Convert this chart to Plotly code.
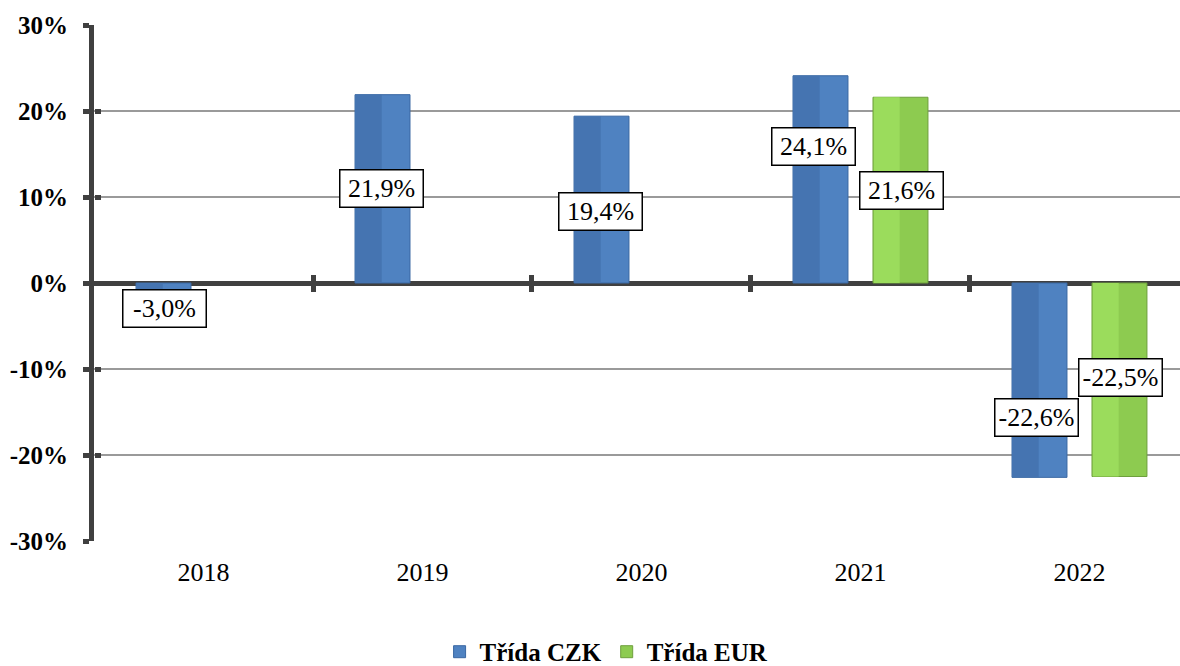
import plotly.graph_objects as go

# ---- data ----
years = ["2018", "2019", "2020", "2021", "2022"]
czk = [-3.0, 21.9, 19.4, 24.1, -22.6]
eur = [None, None, None, 21.6, -22.5]
series_names = ["Třída CZK", "Třída EUR"]
y_tickvals = [-30, -20, -10, 0, 10, 20, 30]
y_ticktext = ["-30%", "-20%", "-10%", "0%", "10%", "20%", "30%"]

# label placement (fraction of bar length where the boxed label sits) and small pixel nudges
czk_label_frac = [1.0, 0.50, 0.43, 0.66, 0.69]
eur_label_frac = [None, None, None, 0.50, 0.49]
czk_nudge = [1, -1, -1, -7, -3]
eur_nudge = [0, 0, 0, 1, 1]

FONT = "Liberation Serif"
AXIS_DARK = "#404040"
GRID = "#9a9a9a"
BLUE = "#4F82C1"
BLUE_SHADE = "#4574B1"
BLUE_LINE = "#3A68A3"
GREEN = "#8DCB50"
GREEN_SHADE = "#9BDC5C"
GREEN_LINE = "#6E9F3D"

BAR_W = 0.251      # bar width in category units
SLOT = 0.1826      # distance of each series' bar centre from category centre

fig = go.Figure()
for vals, name, face, shade, line, sign in (
    (czk, series_names[0], BLUE, BLUE_SHADE, BLUE_LINE, -1),
    (eur, series_names[1], GREEN, GREEN_SHADE, GREEN_LINE, 1),
):
    off = sign * SLOT - BAR_W / 2
    fig.add_trace(go.Bar(
        x=years, y=vals, name=name, offset=off, width=BAR_W,
        marker=dict(color=face, line=dict(color=line, width=1)),
        hoverinfo="skip",
    ))
    # shaded left half to imitate the bevelled 3-D face
    fig.add_trace(go.Bar(
        x=years, y=vals, name=name, offset=off + 0.004, width=BAR_W * 0.47,
        marker=dict(color=shade, line=dict(width=0)),
        showlegend=False, hoverinfo="skip",
    ))

fig.add_trace(go.Scatter(x=[], y=[], xaxis="x2", yaxis="y2", showlegend=False, hoverinfo="skip"))
fig.add_trace(go.Scatter(x=[], y=[], xaxis="x3", yaxis="y2", showlegend=False, hoverinfo="skip"))


def fmt(v):
    return f"{v:.1f}".replace(".", ",") + "%"


slot_px = 40
for vals, fracs, nudges, sign in ((czk, czk_label_frac, czk_nudge, -1), (eur, eur_label_frac, eur_nudge, 1)):
    for i, (v, f, n) in enumerate(zip(vals, fracs, nudges)):
        if v is None:
            continue
        fig.add_annotation(
            x=i, y=v * f, xref="x", yref="y",
            text=fmt(v), showarrow=False,
            xanchor="center", yanchor="middle",
            xshift=sign * slot_px + n,
            font=dict(family=FONT, size=26, color="black"),
            bgcolor="white", bordercolor="black", borderwidth=1.5,
            borderpad=3, width=76, height=30,
        )

xrange = [-0.5, 4.459]
fig.update_layout(
    width=1180, height=666,
    margin=dict(l=94, r=0, t=25, b=125, autoexpand=False),
    paper_bgcolor="white", plot_bgcolor="white",
    barmode="overlay",
    font=dict(family=FONT, color="black"),
    showlegend=True,
    legend=dict(
        orientation="h", x=0.472, xanchor="center", y=-0.215, yanchor="middle",
        font=dict(family=FONT, size=25, color="black", weight="bold"),
        itemwidth=30,
    ),
    xaxis=dict(
        type="category", range=xrange, automargin=False,
        showline=False, showgrid=False, zeroline=False,
        ticks="outside", ticklen=8, tickcolor="white",
        tickfont=dict(family=FONT, size=26, color="black"),
    ),
    yaxis=dict(
        range=[-30, 30], tickvals=y_tickvals, ticktext=y_ticktext, automargin=False,
        showline=True, linewidth=5, linecolor=AXIS_DARK,
        ticks="outside", ticklen=6, tickwidth=5, tickcolor=AXIS_DARK,
        ticklabelstandoff=10,
        showgrid=True, gridcolor=GRID, gridwidth=1.5,
        zeroline=True, zerolinecolor=AXIS_DARK, zerolinewidth=5,
        tickfont=dict(family=FONT, size=25, color="black", weight="bold"),
    ),
    yaxis2=dict(
        overlaying="y", anchor="free", position=0, range=[-30, 30],
        tickvals=y_tickvals, showticklabels=False,
        ticks="inside", ticklen=6, tickwidth=5, tickcolor=AXIS_DARK,
        showgrid=False, zeroline=False, showline=False,
    ),
    xaxis2=dict(
        overlaying="x", anchor="free", position=0.5, range=xrange,
        tickvals=[0.5, 1.5, 2.5, 3.5], showticklabels=False,
        ticks="outside", ticklen=8, tickwidth=5, tickcolor=AXIS_DARK,
        showgrid=False, zeroline=False, showline=False,
    ),
    xaxis3=dict(
        overlaying="x", anchor="free", position=0.5, range=xrange,
        tickvals=[0.5, 1.5, 2.5, 3.5], showticklabels=False,
        ticks="inside", ticklen=8, tickwidth=5, tickcolor=AXIS_DARK,
        showgrid=False, zeroline=False, showline=False,
    ),
)

fig.write_html(
    "out.html",
    config={"displayModeBar": False, "staticPlot": True},
    post_script="document.body.style.margin='0px';",
)
